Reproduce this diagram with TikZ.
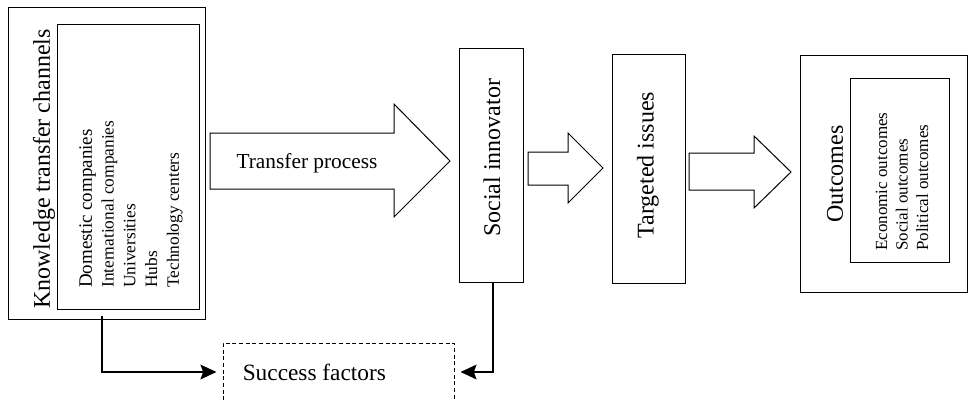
\documentclass[tikz,border=0pt]{standalone}
\usepackage{fontspec}
\setmainfont{Liberation Serif}
\usetikzlibrary{arrows.meta,fit}

\begin{document}
\begin{tikzpicture}[x=0.75pt,y=0.75pt,yscale=-1,xscale=1,
  box/.style={draw, line width=0.75pt, inner sep=0pt},
  dashbox/.style={draw, dash pattern=on 3pt off 2pt, line width=0.75pt, inner sep=0pt},
  bigtxt/.style={rotate=90, inner sep=0.75pt, font=\fontsize{18}{21}\selectfont},
  listtxt/.style={rotate=90, anchor=west, inner sep=0pt, align=left, font=\fontsize{13}{16.3}\selectfont},
  blockarrow/.style={draw, line width=0.75pt, line join=miter},
  link/.style={line width=1.5pt, -{Stealth[length=12pt,width=11pt,inset=2pt]}, shorten >=4.5pt}]
\useasboundingbox (0,0) rectangle (968,400);

%Shape: Rectangle [knowledge transfer channels]
\node[box, fit={(8,7) (205,319)}] (ktc) {};
\node[box, fit={(57,24) (199,309)}] (ktcin) {};
%Shape: Rectangle [social innovator]
\node[box, fit={(459,48) (523,282)}] (social) {};
%Shape: Rectangle [targeted issues]
\node[box, fit={(612,54) (685,283)}] (target) {};
%Shape: Rectangle [outcomes]
\node[box, fit={(800,55) (967,292)}] (outc) {};
\node[box, fit={(850,78) (949,262)}] (outcin) {};
%Shape: Rectangle [success factors]
\node[dashbox, fit={(223,343) (454,401)}] (success) {};

%Shape: Right Arrow
\draw[blockarrow] (210,133) -- (394,133) -- (394,104) -- (450,161) -- (394,217) -- (394,189) -- (210,189) -- cycle;
%Shape: Right Arrow
\draw[blockarrow] (528,152) -- (568,152) -- (568,133) -- (603,168) -- (568,203) -- (568,185) -- (528,185) -- cycle;
%Shape: Right Arrow
\draw[blockarrow] (689,153) -- (754,153) -- (754,136) -- (791,172) -- (754,208) -- (754,190) -- (689,190) -- cycle;

% Text Node
\node[bigtxt] (ktctxt) at (44,169) {Knowledge transfer channels};
% Text Node
\node[listtxt] (ktclist) at (131,288) {{\fontsize{14.2}{16.3}\selectfont Domestic companies}\\International companies\\Universities\\Hubs\\Technology centers};
% Text Node
\node[inner sep=0.75pt, font=\fontsize{16}{19}\selectfont] (transfer) at (307,163) {Transfer process};
% Text Node
\node[bigtxt] (socialtxt) at (492,158) {Social innovator};
% Text Node
\node[bigtxt] (targettxt) at (648,165) {Targeted issues};
% Text Node
\node[bigtxt] (outctxt) at (835,174) {Outcomes};
% Text Node
\node[listtxt, font=\fontsize{12.75}{15.4}\selectfont] (outclist) at (902,251) {Economic outcomes\\Social outcomes\\Political outcomes};
% Text Node
\node[anchor=west, inner sep=0pt, font=\fontsize{17.5}{20}\selectfont] (successtxt) at ([xshift=15pt]success.west) {Success factors};

%Connectors
\draw[link] ([xshift=-3.4pt,yshift=-3pt]ktc.south) |- (success.west);
\draw[link] ([xshift=1.2pt]social.south) |- (success.east);

\end{tikzpicture}
\end{document}
